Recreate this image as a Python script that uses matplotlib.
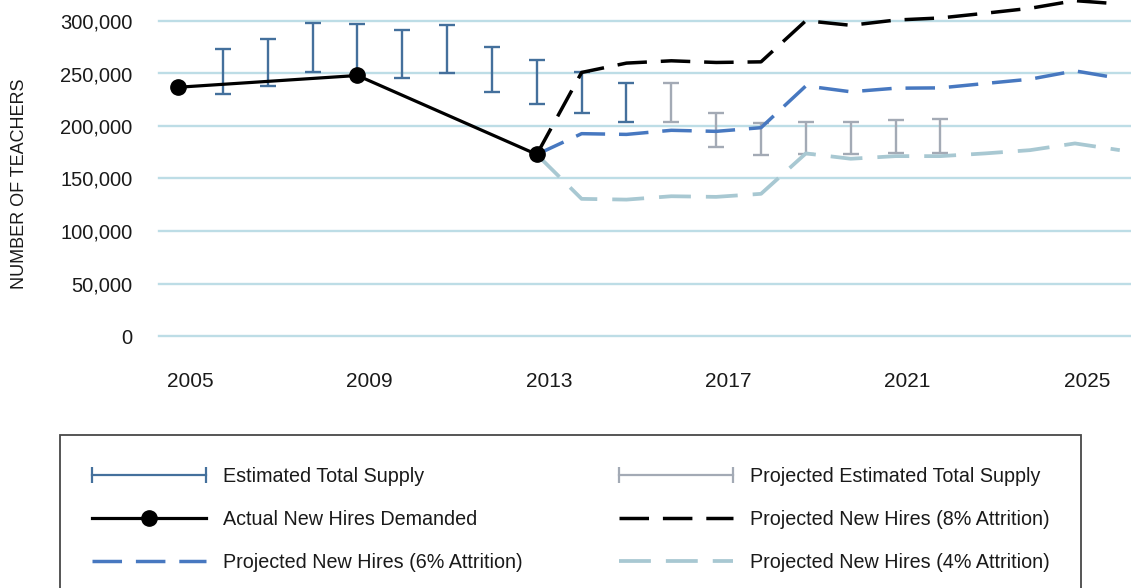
import numpy as np
import matplotlib
matplotlib.use("Agg")
import matplotlib.pyplot as plt
import matplotlib.transforms as mtransforms
from matplotlib.lines import Line2D
from matplotlib.legend_handler import HandlerLine2D
from matplotlib.ticker import FuncFormatter

plt.rcParams["font.family"] = ["Liberation Sans", "DejaVu Sans"]

# supply ranges (low / high) per year
supply_years = list(range(2006, 2023))
supply_low = [230300, 237900, 251300, 248000, 245800, 250000, 232200, 221400,
              212400, 203800, 203800, 179900, 172300, 172900, 173600, 173900, 174500]
supply_high = [273200, 282500, 298100, 297400, 291700, 296500, 274900, 262400,
               251900, 241400, 241400, 212800, 203200, 203500, 204200, 205400, 206400]
last_actual_supply = 2015

# actual new hires demanded
actual_years = [2005, 2009, 2013]
actual_hires = [236900, 248100, 172900]

# projected new hires
proj_years = list(range(2013, 2027))
hires_8 = [172900, 251000, 259900, 262100, 260500, 261100, 300300, 295900,
           300900, 302900, 307400, 312100, 319400, 316200]
hires_6 = [172900, 192700, 192000, 195900, 194900, 198400, 238200, 232600,
           236000, 236300, 240500, 244600, 252500, 245300]
hires_4 = [172900, 130600, 129900, 133100, 132500, 135400, 173900, 168800,
           171300, 171300, 173900, 177000, 183400, 177000]

x_ticks = [2005, 2009, 2013, 2017, 2021, 2025]
y_ticks = [0, 50000, 100000, 150000, 200000, 250000, 300000]

C_SUPPLY = "#44709c"
C_PROJ_SUPPLY = "#a3aab5"
C_BLUE = "#4778c0"
C_LIGHT = "#a8c8d2"
C_GRID = "#bddde6"
DASH = (0, (8.5, 4))

fig = plt.figure(figsize=(11.31, 5.88), dpi=100, facecolor="white")
ax = fig.add_axes([159 / 1131, 252 / 588, 972 / 1131, 336 / 588])

# gridlines
for v in y_ticks:
    ax.axhline(v, color=C_GRID, lw=1.7, zorder=0, clip_on=False)

# supply error bars
yrs = np.array(supply_years)
lo = np.array(supply_low)
hi = np.array(supply_high)
mid = (lo + hi) / 2
err = (hi - lo) / 2
act = yrs <= last_actual_supply
ax.errorbar(yrs[act], mid[act], yerr=err[act], fmt="none", ecolor=C_SUPPLY,
            elinewidth=1.7, capsize=5.5, capthick=1.7, zorder=2)
ax.errorbar(yrs[~act], mid[~act], yerr=err[~act], fmt="none", ecolor=C_PROJ_SUPPLY,
            elinewidth=1.7, capsize=5.5, capthick=1.7, zorder=2)

# projections
ax.plot(proj_years, hires_4, color=C_LIGHT, lw=2.7, linestyle=DASH, zorder=3)
ax.plot(proj_years, hires_6, color=C_BLUE, lw=2.5, linestyle=DASH, zorder=3)
ax.plot(proj_years, hires_8, color="black", lw=2.5, linestyle=DASH, zorder=3)

# actual hires
ax.plot(actual_years, actual_hires, color="black", lw=2.3, marker="o",
        markersize=11, zorder=4)

ax.set_xlim(2004.576, 2026.25)
ax.set_ylim(0, 320000)
ax.set_xticks(x_ticks)
ax.set_yticks(y_ticks)
ax.yaxis.set_major_formatter(FuncFormatter(lambda v, p: f"{int(v):,}"))
ax.tick_params(axis="x", length=0, pad=26, labelsize=15, colors="#1a1a1a")
ax.tick_params(axis="y", length=0, pad=19, labelsize=14.5, colors="#1a1a1a")
offset = mtransforms.ScaledTranslation(12 / 100, 0, fig.dpi_scale_trans)
for lab in ax.get_xticklabels():
    lab.set_transform(lab.get_transform() + offset)
for s in ax.spines.values():
    s.set_visible(False)
ax.set_facecolor("none")

fig.text(20 / 1131, (588 - 184) / 588, "NUMBER OF TEACHERS", rotation=90,
         ha="center", va="center", fontsize=13, color="#1a1a1a")

# legend
h_supply = Line2D([], [], color=C_SUPPLY, lw=1.6, marker="|", markersize=12,
                  markeredgewidth=1.6)
h_proj_supply = Line2D([], [], color=C_PROJ_SUPPLY, lw=1.6, marker="|",
                       markersize=12, markeredgewidth=1.6)
h_actual = Line2D([], [], color="black", lw=2.3, marker="o", markersize=11)
h_6 = Line2D([], [], color=C_BLUE, lw=2.5, linestyle=DASH)
h_8 = Line2D([], [], color="black", lw=2.5, linestyle=DASH)
h_4 = Line2D([], [], color=C_LIGHT, lw=2.7, linestyle=DASH)

handles = [h_supply, h_actual, h_6, h_proj_supply, h_8, h_4]
labels = ["Estimated Total Supply", "Actual New Hires Demanded",
          "Projected New Hires (6% Attrition)", "Projected Estimated Total Supply",
          "Projected New Hires (8% Attrition)", "Projected New Hires (4% Attrition)"]
hmap = {h_supply: HandlerLine2D(numpoints=2, marker_pad=0),
        h_proj_supply: HandlerLine2D(numpoints=2, marker_pad=0)}
leg = fig.legend(handles, labels, ncol=2, loc="upper left", mode="expand",
                 bbox_to_anchor=(60 / 1131, 0, 1021 / 1131, (588 - 435) / 588),
                 fontsize=14.2, handlelength=5.8, handletextpad=0.85,
                 labelspacing=1.22, borderpad=1.6, borderaxespad=0,
                 fancybox=False, frameon=True, handler_map=hmap)
leg.get_frame().set_edgecolor("#1a1a1a")
leg.get_frame().set_linewidth(1.3)
for t in leg.get_texts():
    t.set_color("#1a1a1a")

fig.savefig("out.png", dpi=100, facecolor="white")
